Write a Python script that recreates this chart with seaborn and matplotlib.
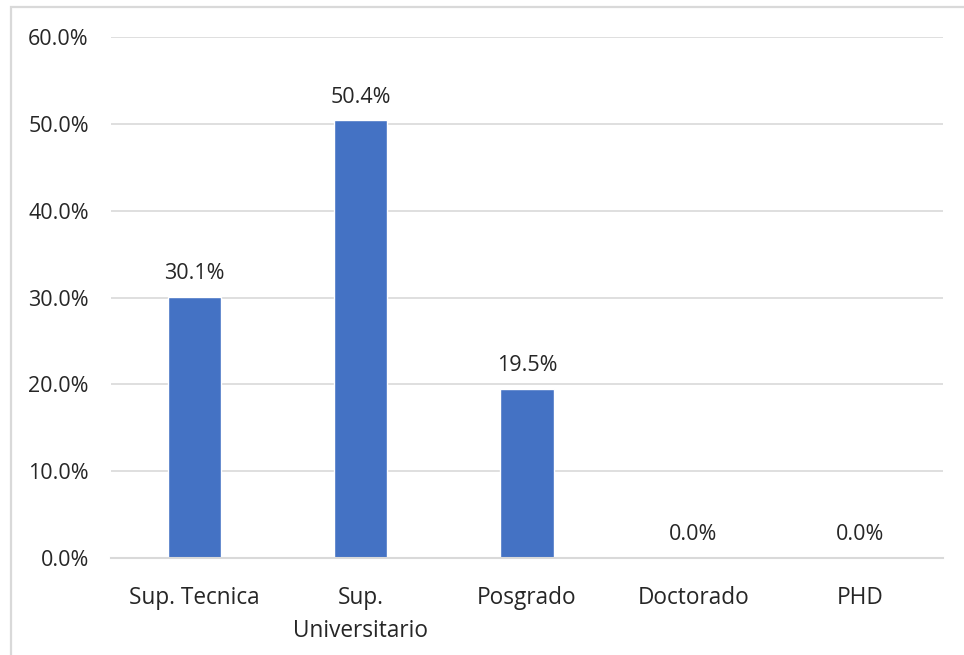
import matplotlib
matplotlib.use("Agg")
import matplotlib.pyplot as plt
import matplotlib.patches as mpatches
import seaborn as sns
import pandas as pd
from matplotlib.ticker import FuncFormatter, FixedLocator

categories = ["Sup. Tecnica", "Sup.\nUniversitario", "Posgrado", "Doctorado", "PHD"]
values = [30.1, 50.4, 19.5, 0.0, 0.0]
y_ticks = [0, 10, 20, 30, 40, 50, 60]

sns.set_theme(style="white")
plt.rcParams["font.family"] = ["Open Sans", "DejaVu Sans"]

TEXT = "#262626"
GRID = "#D9D9D9"
BAR = "#4472C4"
FS = 15.5
FS_X = 16.3

W, H = 964, 655
fig = plt.figure(figsize=(W / 100, H / 100), dpi=100)
ax = fig.add_axes([111 / W, 1 - 558 / H, (943 - 111) / W, (558 - 37) / H])

df = pd.DataFrame({"cat": categories, "val": values})
sns.barplot(data=df, x="cat", y="val", color=BAR, width=0.32,
            saturation=1, ax=ax, zorder=3)

ax.set_xlim(-0.5, len(categories) - 0.5)
ax.set_ylim(0, 60)
ax.set_yticks(y_ticks)
ax.yaxis.set_major_formatter(FuncFormatter(lambda v, _: f"{v:.1f}%"))
ax.grid(axis="y", color=GRID, linewidth=1.2, zorder=0)
ax.set_xlabel("")
ax.set_ylabel("")

for s in ["top", "right", "left"]:
    ax.spines[s].set_visible(False)
ax.spines["bottom"].set_color(GRID)
ax.spines["bottom"].set_linewidth(1.5)
ax.spines["bottom"].set_zorder(4)

ax.tick_params(axis="y", length=0, labelsize=FS, labelcolor=TEXT, pad=16)
ax.tick_params(axis="x", which="major", length=0, labelsize=FS_X,
               labelcolor=TEXT, pad=20)
ax.xaxis.set_minor_locator(FixedLocator([i - 0.5 for i in range(len(categories) + 1)]))
ax.tick_params(axis="x", which="minor", length=9, width=1.5, color=GRID,
               direction="out")
for lab in ax.get_xticklabels():
    lab.set_linespacing(1.5)
    lab.set_verticalalignment("top")

for i, v in enumerate(values):
    ax.annotate(f"{v:.1f}%", (i, v), xytext=(0, 9), textcoords="offset points",
                ha="center", va="bottom", fontsize=FS, color=TEXT)

border = mpatches.Rectangle((11 / W, -0.1), 1.1, 1 - 7 / H + 0.1,
                            transform=fig.transFigure, fill=False,
                            edgecolor=GRID, linewidth=1.6, clip_on=False)
fig.patches.append(border)

fig.savefig("out.png", dpi=100, facecolor="white")
